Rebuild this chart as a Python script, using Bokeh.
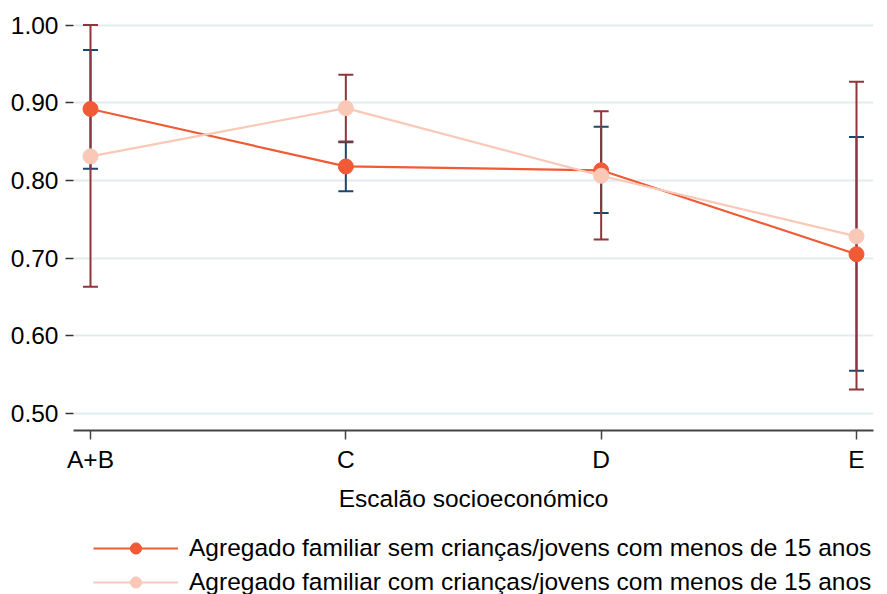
from bokeh.plotting import figure
from bokeh.layouts import column
from bokeh.models import (ColumnDataSource, Range1d, FixedTicker, Whisker, TeeHead,
                          Legend, LegendItem, NumeralTickFormatter)
from bokeh.embed import file_html
from bokeh.resources import INLINE

# ---- data ----
categories = ["A+B", "C", "D", "E"]
sem_mean = [0.892, 0.818, 0.813, 0.705]
sem_lower = [0.815, 0.786, 0.758, 0.555]
sem_upper = [0.968, 0.849, 0.869, 0.856]
com_mean = [0.831, 0.893, 0.806, 0.728]
com_lower = [0.663, 0.850, 0.724, 0.531]
com_upper = [1.000, 0.936, 0.889, 0.927]
y_ticks = [0.50, 0.60, 0.70, 0.80, 0.90, 1.00]
label_sem = "Agregado familiar sem crianças/jovens com menos de 15 anos"
label_com = "Agregado familiar com crianças/jovens com menos de 15 anos"
x_title = "Escalão socioeconómico"

xs = list(range(len(categories)))
src_sem = ColumnDataSource(dict(x=xs, y=sem_mean, lo=sem_lower, hi=sem_upper))
src_com = ColumnDataSource(dict(x=xs, y=com_mean, lo=com_lower, hi=com_upper))

FONT = "Liberation Sans"
FS = "24.5px"
NAVY = "#1a476f"
MAROON = "#90353b"
C_SEM = "#f05a35"
C_COM = "#f9c8b7"

p = figure(width=887, height=530, output_backend="svg", toolbar_location=None,
           x_range=Range1d(-0.0666, 3.0666), y_range=Range1d(0.4781, 1.011),
           min_border_left=73, min_border_right=14, min_border_top=16,
           min_border_bottom=100)
p.outline_line_color = None
p.background_fill_color = "white"

# error bars
for src, col in ((src_sem, NAVY), (src_com, MAROON)):
    w = Whisker(base="x", lower="lo", upper="hi", source=src,
                line_color=col, line_width=2,
                upper_head=TeeHead(size=15, line_color=col, line_width=2),
                lower_head=TeeHead(size=15, line_color=col, line_width=2))
    p.add_layout(w)

p.line("x", "y", source=src_sem, line_color=C_SEM, line_width=2.2)
p.scatter("x", "y", source=src_sem, size=15, fill_color=C_SEM, line_color=C_SEM)
p.line("x", "y", source=src_com, line_color=C_COM, line_width=2.2)
p.scatter("x", "y", source=src_com, size=15, fill_color=C_COM, line_color=C_COM)

# axes
p.xaxis.ticker = FixedTicker(ticks=xs)
p.xaxis.major_label_overrides = {i: c for i, c in zip(xs, categories)}
p.xaxis.axis_label = x_title
p.xaxis.axis_line_color = "#444444"
p.xaxis.axis_line_width = 2
p.xaxis.major_tick_line_color = "#444444"
p.xaxis.major_tick_line_width = 1.5
p.xaxis.major_tick_out = 9
p.xaxis.major_tick_in = 0
p.xaxis.minor_tick_line_color = None
p.xaxis.major_label_standoff = 6
p.xaxis.axis_label_standoff = 9

p.yaxis.ticker = FixedTicker(ticks=y_ticks)
p.yaxis.formatter = NumeralTickFormatter(format="0.00")
p.yaxis.axis_line_color = None
p.yaxis.major_tick_line_color = "#333333"
p.yaxis.major_tick_line_width = 1.5
p.yaxis.major_tick_out = 8
p.yaxis.major_tick_in = 0
p.yaxis.minor_tick_line_color = None
p.yaxis.major_label_standoff = 7

for ax in (p.xaxis, p.yaxis):
    ax.major_label_text_font = FONT
    ax.major_label_text_font_size = FS
    ax.major_label_text_color = "black"
    ax.axis_label_text_font = FONT
    ax.axis_label_text_font_size = FS
    ax.axis_label_text_font_style = "normal"
    ax.axis_label_text_color = "black"

p.xgrid.grid_line_color = None
p.ygrid.grid_line_color = "#e2ecee"
p.ygrid.grid_line_width = 2

# legend strip (own figure; its glyphs lie outside its ranges, only the legend shows)
q = figure(width=887, height=64, output_backend="svg", toolbar_location=None,
           x_range=Range1d(100, 101), y_range=Range1d(100, 101),
           min_border_left=0, min_border_right=0, min_border_top=0,
           min_border_bottom=0)
q.axis.visible = False
q.grid.grid_line_color = None
q.outline_line_color = None
ql1 = q.line("x", "y", source=src_sem, line_color=C_SEM, line_width=2.2)
qs1 = q.scatter("x", "y", source=src_sem, size=15, fill_color=C_SEM, line_color=C_SEM)
ql2 = q.line("x", "y", source=src_com, line_color=C_COM, line_width=2.2)
qs2 = q.scatter("x", "y", source=src_com, size=15, fill_color=C_COM, line_color=C_COM)

legend = Legend(items=[LegendItem(label=label_sem, renderers=[ql1, qs1]),
                       LegendItem(label=label_com, renderers=[ql2, qs2])],
                location=(20, -2), orientation="vertical",
                glyph_width=85, glyph_height=28, label_height=28,
                label_standoff=11, spacing=6, padding=0, margin=0,
                border_line_color=None, background_fill_alpha=0,
                label_text_font=FONT, label_text_font_size=FS,
                label_text_color="black")
q.add_layout(legend)

layout = column(p, q, spacing=0)
open("out.html", "w").write(file_html(layout, INLINE))
